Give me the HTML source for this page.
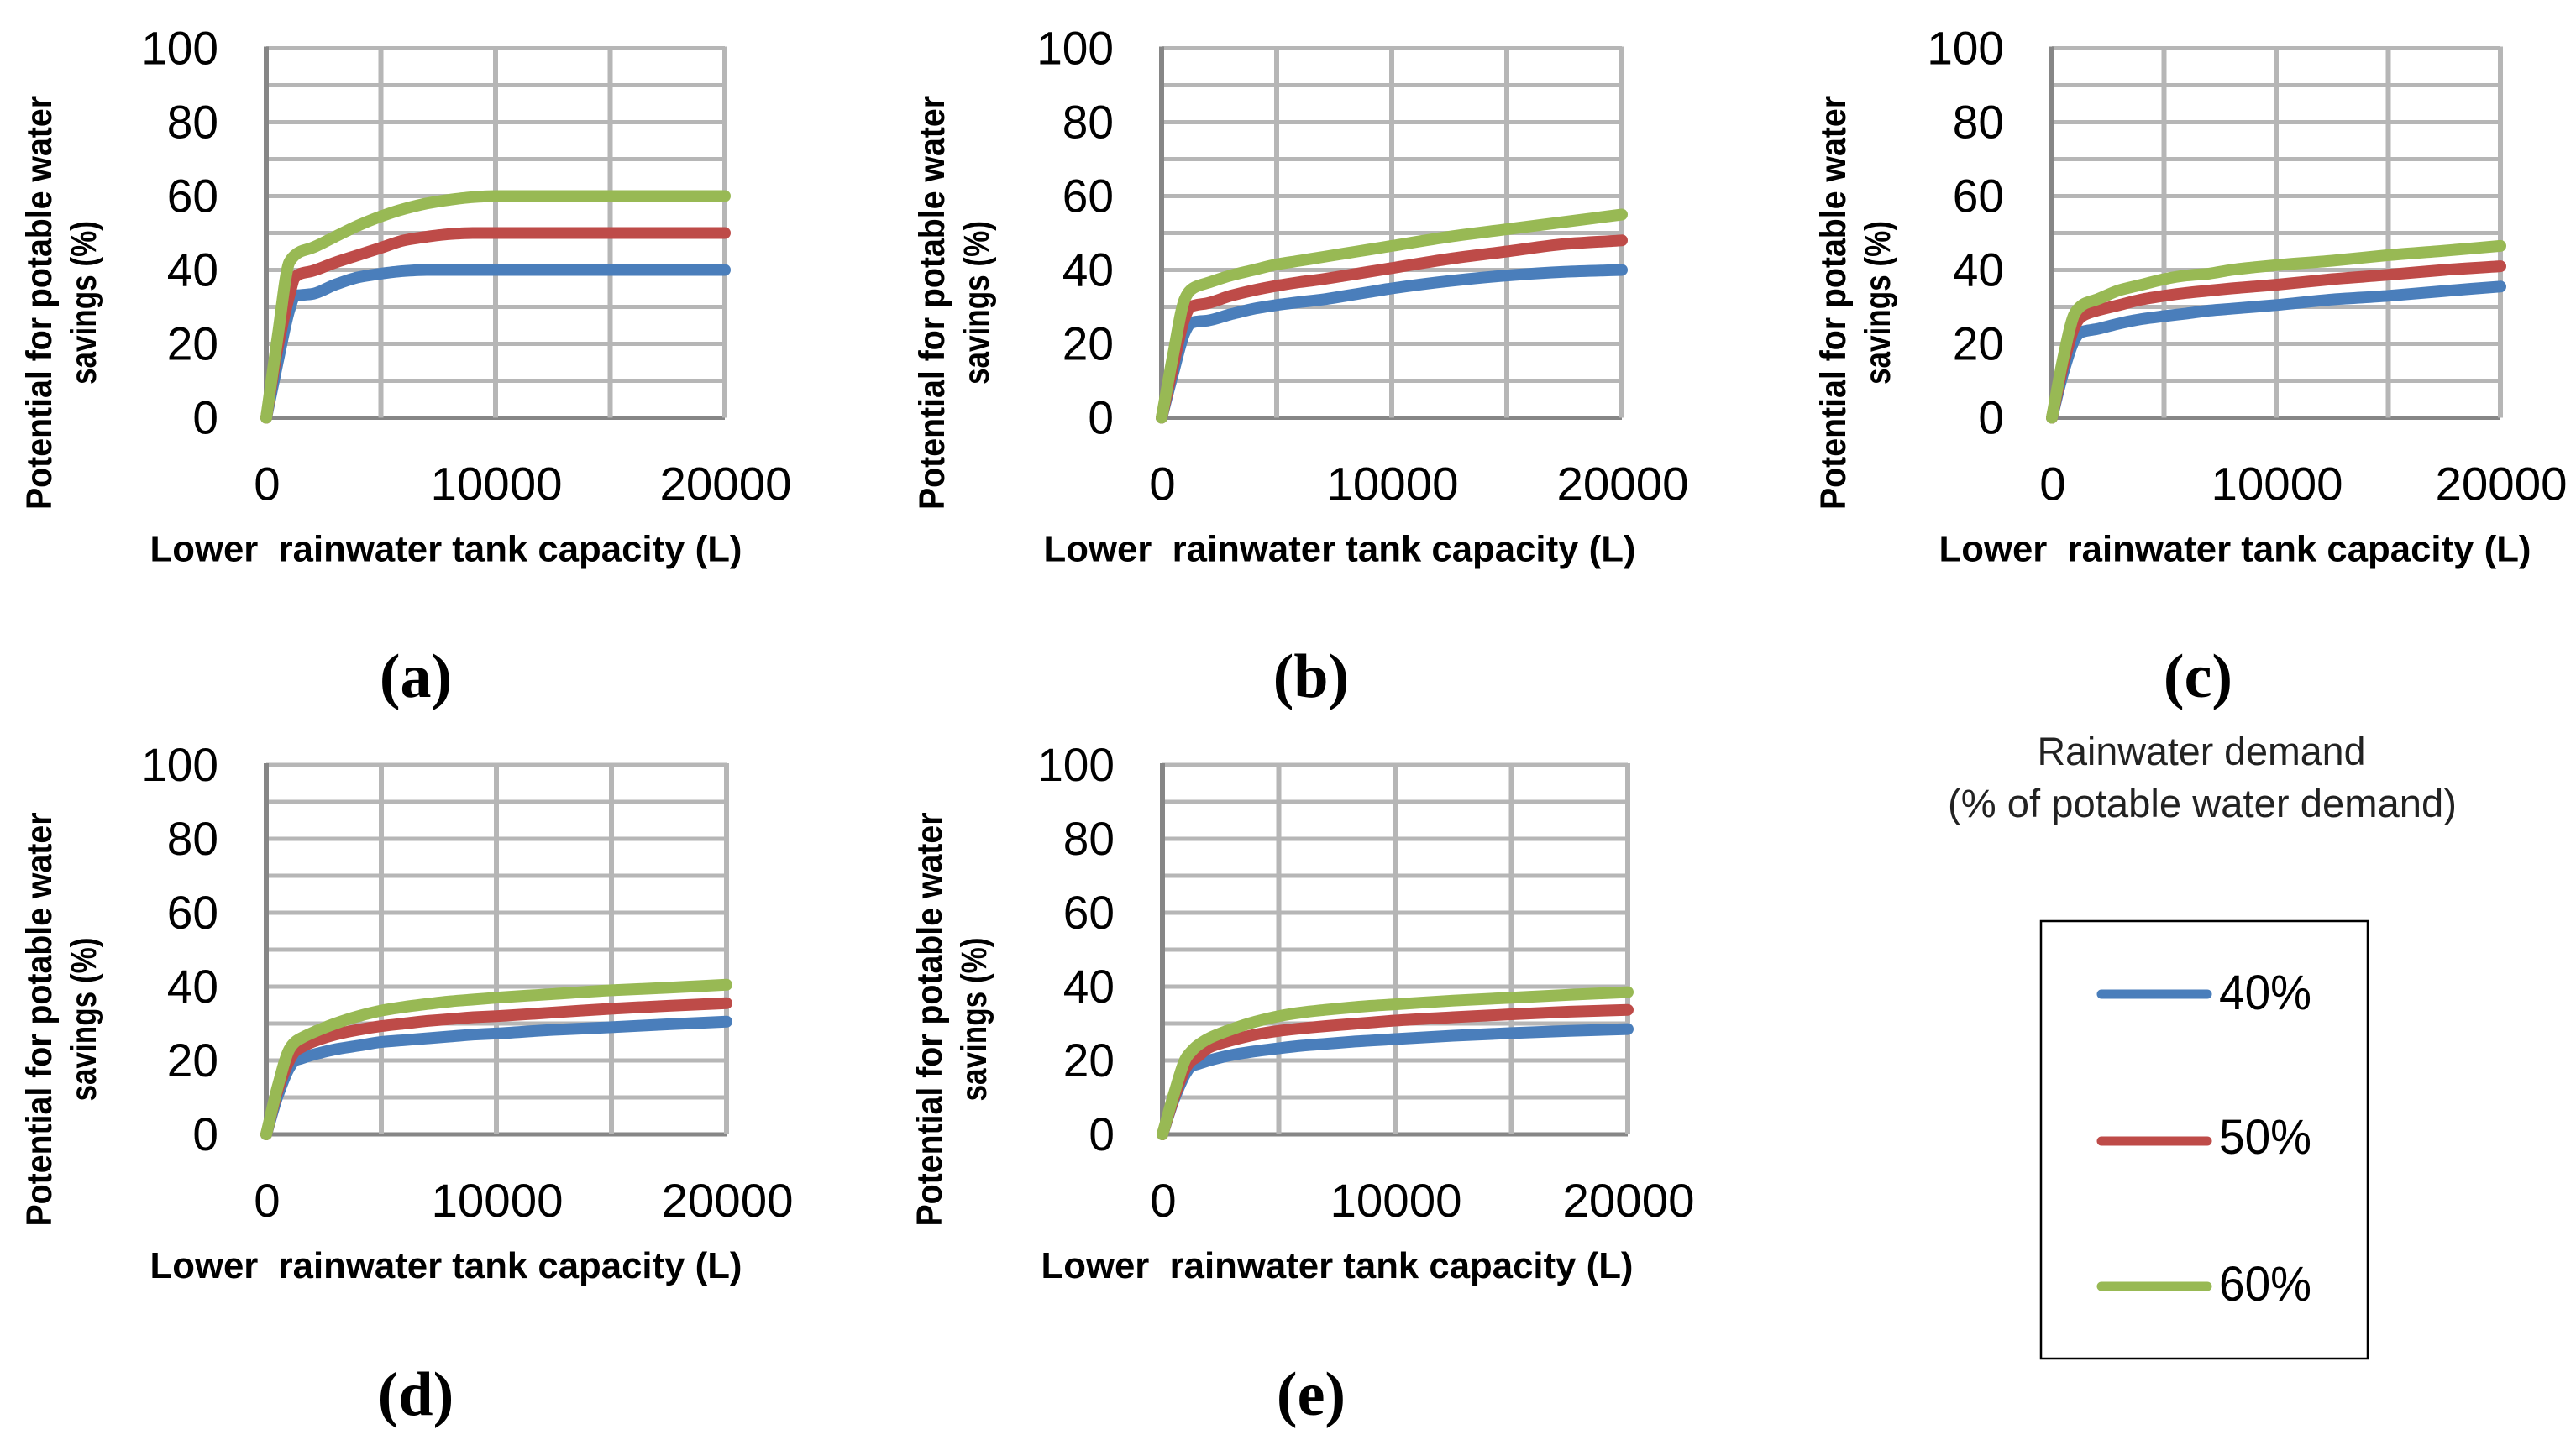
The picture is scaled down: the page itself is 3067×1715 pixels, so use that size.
<!DOCTYPE html>
<html lang="en">
<head>
<meta charset="utf-8">
<title>Potential for potable water savings vs lower rainwater tank capacity</title>
<style>
html,body{margin:0;padding:0;background:#fff;}
svg{display:block;}
text{font-family:"Liberation Sans",sans-serif;fill:#000;}
</style>
</head>
<body>
<svg id="figure" xmlns="http://www.w3.org/2000/svg" width="3067" height="1715" viewBox="0 0 3067 1715">
  <rect x="0" y="0" width="3067" height="1715" fill="#fff"/>
  <g id="panels"></g>
  <g>
    <text x="2621" y="911" text-anchor="middle" font-size="47" textLength="391" lengthAdjust="spacingAndGlyphs" style="fill:#222">Rainwater demand</text>
    <text x="2622" y="973" text-anchor="middle" font-size="47" textLength="606" lengthAdjust="spacingAndGlyphs" style="fill:#222">(% of potable water demand)</text>
  </g>
  <g>
    <rect x="2430" y="1097" width="389" height="521" fill="#fff" stroke="#000" stroke-width="2.5"/>
    <g>
      <line x1="2502" y1="1184" x2="2628" y2="1184" stroke="#4a7ebb" stroke-width="11" stroke-linecap="round"/>
      <text x="2642" y="1202" font-size="58" textLength="110" lengthAdjust="spacingAndGlyphs">40%</text>
    </g>
    <g>
      <line x1="2502" y1="1359" x2="2628" y2="1359" stroke="#be4b48" stroke-width="11" stroke-linecap="round"/>
      <text x="2642" y="1374" font-size="58" textLength="110" lengthAdjust="spacingAndGlyphs">50%</text>
    </g>
    <g>
      <line x1="2502" y1="1532" x2="2628" y2="1532" stroke="#98b954" stroke-width="11" stroke-linecap="round"/>
      <text x="2642" y="1549" font-size="58" textLength="110" lengthAdjust="spacingAndGlyphs">60%</text>
    </g>
  </g>
</svg>
<script>
const capacityLitres = [0,500,1000,1250,1500,2000,3000,4000,5000,6000,7000,8000,9000,10000,12500,15000,17500,20000];
const yTickValues = [0,20,40,60,80,100];
const yGridValues = [0,10,20,30,40,50,60,70,80,90,100];
const xTickValues = [0,10000,20000];
const xGridValues = [0,5000,10000,15000,20000];
const seriesNames = ['40%','50%','60%'];

const panelA40 = [0,15,29,33,33.2,33.5,36,38,39,39.7,40,40,40,40,40,40,40,40];
const panelA50 = [0,19,33,38,39,39.7,42,44,46,48,49,49.7,50,50,50,50,50,50];
const panelA60 = [0,22,42,44,45,46,49,52,54.5,56.5,58,59,59.7,60,60,60,60,60];

const panelB40 = [0,12,23,25.5,26,26.3,28,29.5,30.5,31.3,32,33,34,35,37,38.5,39.5,40];
const panelB50 = [0,14,27,30,30.5,31,33,34.5,35.7,36.7,37.5,38.5,39.5,40.5,43,45,47,48];
const panelB60 = [0,17,32,34.5,35.5,36.5,38.5,40,41.5,42.5,43.5,44.5,45.5,46.5,49,51,53,55];

const panelC40 = [0,12,21,23,23.5,24,25.5,26.7,27.5,28.2,29,29.5,30,30.5,32,33,34.3,35.5];
const panelC50 = [0,14,24.5,27,28,29,30.5,32,33,33.8,34.4,35,35.5,36,37.5,38.7,40,41];
const panelC60 = [0,16,28,30,31,32,34.5,36,37.5,38.5,39,40,40.7,41.3,42.5,44,45.2,46.5];

const panelD40 = [0,10.5,18,20,20.5,21.5,23,24,25,25.5,26,26.5,27,27.3,28.3,29,29.8,30.5];
const panelD50 = [0,12,20,22.5,23.5,25,27,28.3,29.3,30,30.7,31.2,31.7,32,33,34,34.8,35.5];
const panelD60 = [0,13,23,25,26,27.5,30,32,33.5,34.5,35.3,36,36.5,37,38,39,39.7,40.5];

const panelE40 = [0,9.5,16.5,18.5,19,20,21.5,22.5,23.3,24,24.5,25,25.4,25.8,26.7,27.4,28,28.5];
const panelE50 = [0,10,18,20,21,23.5,25.5,27,28,28.7,29.3,29.8,30.3,30.8,31.7,32.5,33.2,33.7];
const panelE60 = [0,11,20.5,22.5,24,26,28.5,30.5,32,33,33.7,34.3,34.8,35.2,36.2,37,37.8,38.5];

const panels = [
  {id:'a', left:317,  right:863,  top:57.5, bottom:497.5, titleX:61,   xTitleCx:531,  capCx:495,  capY:830,  values:[panelA40,panelA50,panelA60]},
  {id:'b', left:1383, right:1931, top:57.5, bottom:497.5, titleX:1124, xTitleCx:1595, capCx:1561, capY:830,  values:[panelB40,panelB50,panelB60]},
  {id:'c', left:2443, right:2977, top:57.5, bottom:497.5, titleX:2197, xTitleCx:2661, capCx:2617, capY:830,  values:[panelC40,panelC50,panelC60]},
  {id:'d', left:317,  right:865,  top:911,  bottom:1351,  titleX:61,   xTitleCx:531,  capCx:495,  capY:1685, values:[panelD40,panelD50,panelD60]},
  {id:'e', left:1384, right:1938, top:911,  bottom:1351,  titleX:1121, xTitleCx:1592, capCx:1561, capY:1685, values:[panelE40,panelE50,panelE60]}
];
const seriesColors = ['#4a7ebb','#be4b48','#98b954'];

const NS = 'http://www.w3.org/2000/svg';
function mk(parent, tag, attrs, content) {
  const node = document.createElementNS(NS, tag);
  for (const k in attrs) node.setAttribute(k, attrs[k]);
  if (content !== undefined) node.textContent = content;
  parent.appendChild(node);
  return node;
}
function smoothPath(xs, ys) {
  const n = xs.length;
  const slopes = [];
  for (let i = 0; i < n; i++) {
    if (i === 0) { slopes.push((ys[1] - ys[0]) / (xs[1] - xs[0])); continue; }
    if (i === n - 1) { slopes.push((ys[i] - ys[i - 1]) / (xs[i] - xs[i - 1])); continue; }
    const d0 = xs[i] - xs[i - 1];
    const d1 = xs[i + 1] - xs[i];
    const s0 = (ys[i] - ys[i - 1]) / d0;
    const s1 = (ys[i + 1] - ys[i]) / d1;
    slopes.push(s0 * s1 <= 0 ? 0 : 2 * s0 * s1 / (s0 + s1));
  }
  let d = 'M' + xs[0].toFixed(1) + ' ' + ys[0].toFixed(1);
  for (let i = 0; i < n - 1; i++) {
    const h = (xs[i + 1] - xs[i]) / 3;
    d += ' C' + (xs[i] + h).toFixed(1) + ' ' + (ys[i] + slopes[i] * h).toFixed(1) + ' ' +
         (xs[i + 1] - h).toFixed(1) + ' ' + (ys[i + 1] - slopes[i + 1] * h).toFixed(1) + ' ' +
         xs[i + 1].toFixed(1) + ' ' + ys[i + 1].toFixed(1);
  }
  return d;
}
const root = document.getElementById('panels');

panels.forEach(function (p) {
  const xScale = function (v) { return p.left + (v / 20000) * (p.right - p.left); };
  const yScale = function (v) { return p.bottom - (v / 100) * (p.bottom - p.top); };

  const g = mk(root, 'g', {});
  
  

  yGridValues.forEach(function (v) {
    const el = mk(g, 'line', {x1:p.left, x2:p.right, y1:yScale(v), y2:yScale(v), stroke: v === 0 ? '#868686' : '#b6b6b6', 'stroke-width': 5});
    
    
  });
  xGridValues.forEach(function (v) {
    const el = mk(g, 'line', {x1:xScale(v), x2:xScale(v), y1:p.top - 2, y2:p.bottom, stroke: v === 0 ? '#868686' : '#b6b6b6', 'stroke-width': 6});
    
    
  });

  yTickValues.forEach(function (v) {
    const s = String(v);
    const el = mk(g, 'text', {x:p.left - 57, y:yScale(v) + 19, 'text-anchor':'end', 'font-size':56, textLength:s.length * 30.6, lengthAdjust:'spacingAndGlyphs'}, s);
    
    
  });
  xTickValues.forEach(function (v) {
    const s = String(v);
    const el = mk(g, 'text', {x:xScale(v) + 1, y:p.bottom + 98, 'text-anchor':'middle', 'font-size':56, textLength:s.length * 31.4, lengthAdjust:'spacingAndGlyphs'}, s);
    
    
  });

  p.values.forEach(function (vals, i) {
    const xs = capacityLitres.map(xScale);
    const ys = vals.map(yScale);
    const el = mk(g, 'path', {d:smoothPath(xs, ys), fill:'none', stroke:seriesColors[i], 'stroke-width':14, 'stroke-linecap':'round', 'stroke-linejoin':'round'});
    
    
  });

  const cy = p.top + 303;
  const t1 = mk(g, 'text', {transform:'translate(' + p.titleX + ',' + cy + ') rotate(-90)', 'text-anchor':'middle', 'font-size':43, 'font-weight':'bold', textLength:493, lengthAdjust:'spacingAndGlyphs'}, 'Potential for potable water');
  
  
  const t2 = mk(g, 'text', {transform:'translate(' + (p.titleX + 53) + ',' + cy + ') rotate(-90)', 'text-anchor':'middle', 'font-size':43, 'font-weight':'bold', textLength:195, lengthAdjust:'spacingAndGlyphs'}, 'savings (%)');
  
  

  const xt = mk(g, 'text', {x:p.xTitleCx, y:p.bottom + 171, 'text-anchor':'middle', 'font-size':44, 'font-weight':'bold', textLength:705, lengthAdjust:'spacingAndGlyphs'}, 'Lower\u00a0\u00a0rainwater tank capacity (L)');
  
  

  const cap = mk(g, 'text', {x:p.capCx, y:p.capY, 'text-anchor':'middle', 'font-size':74, 'font-weight':'bold', style:'font-family:"Liberation Serif",serif'}, '(' + p.id + ')');
  
  
});
</script>
</body>
</html>
